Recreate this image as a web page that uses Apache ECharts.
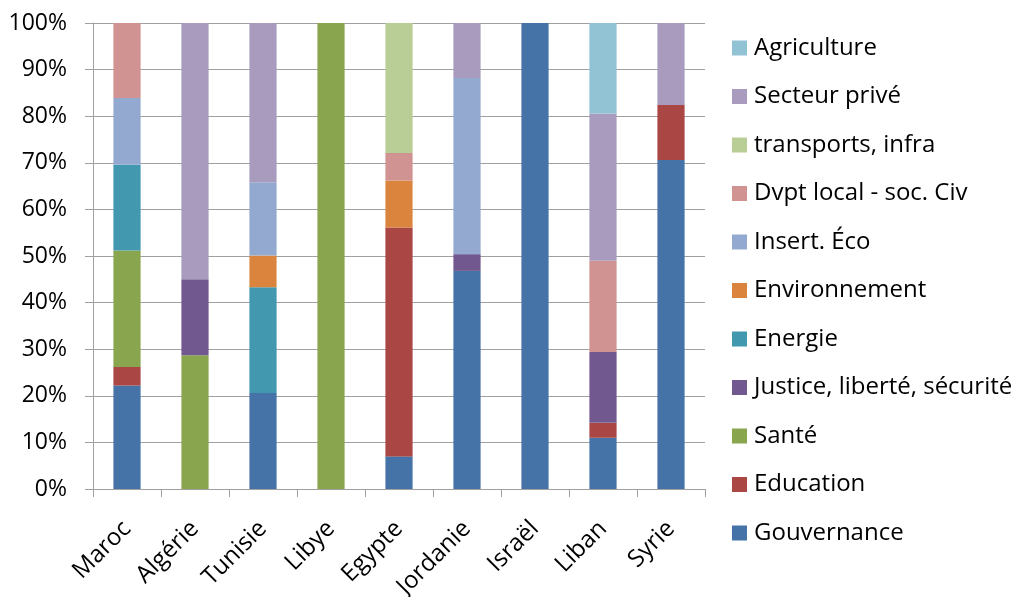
<!DOCTYPE html>
<html>
<head>
<meta charset="utf-8">
<script src="https://cdn.jsdelivr.net/npm/echarts@6/dist/echarts.min.js"></script>
<style>
  html, body { margin: 0; padding: 0; background: #ffffff; }
  #chart { width: 1018px; height: 597px; }
</style>
</head>
<body>
<div id="chart"></div>
<script>
// Countries on the x axis
const countries = ['Maroc', 'Algérie', 'Tunisie', 'Libye', 'Egypte', 'Jordanie', 'Israël', 'Liban', 'Syrie'];

// Share of each sector per country (%)
const gouvernance   = [22.2, 0,    20.6, 0,   7.0,  46.8, 100, 11.0, 70.6];
const education     = [4.0,  0,    0,    0,   49.1, 0,    0,   3.2,  11.8];
const sante         = [25.0, 28.7, 0,    100, 0,    0,    0,   0,    0];
const justice       = [0,    16.3, 0,    0,   0,    3.6,  0,   15.2, 0];
const energie       = [18.4, 0,    22.7, 0,   0,    0,    0,   0,    0];
const environnement = [0,    0,    6.8,  0,   10.1, 0,    0,   0,    0];
const insertEco     = [14.3, 0,    15.7, 0,   0,    37.8, 0,   0,    0];
const dvptLocal     = [16.1, 0,    0,    0,   5.9,  0,    0,   19.6, 0];
const transports    = [0,    0,    0,    0,   27.9, 0,    0,   0,    0];
const secteurPrive  = [0,    55.0, 34.2, 0,   0,    11.8, 0,   31.6, 17.6];
const agriculture   = [0,    0,    0,    0,   0,    0,    0,   19.4, 0];

// Sector names, bottom of the stack first
const sectorNames = ['Gouvernance', 'Education', 'Santé', 'Justice, liberté, sécurité', 'Energie',
  'Environnement', 'Insert. Éco', 'Dvpt local - soc. Civ', 'transports, infra', 'Secteur privé', 'Agriculture'];
const sectorValues = [gouvernance, education, sante, justice, energie,
  environnement, insertEco, dvptLocal, transports, secteurPrive, agriculture];
const sectorColors = ['#4572A7', '#AA4643', '#89A54E', '#71588F', '#4198AF',
  '#DB843D', '#93A9CF', '#D19392', '#B9CD96', '#A99BBD', '#92C3D4'];

// Y axis ticks
const yMin = 0, yMax = 100, yStep = 10;

const FONT = '"Open Sans", "DejaVu Sans", sans-serif';
const AXIS_GRAY = '#a0a0a0';

const chart = echarts.init(document.getElementById('chart'), null, { renderer: 'canvas' });

const series = sectorNames.map((name, i) => ({
  name: name,
  type: 'bar',
  stack: 'total',
  barWidth: '40%',
  data: sectorValues[i],
  itemStyle: { color: sectorColors[i] },
  emphasis: { disabled: true }
}));

chart.setOption({
  animation: false,
  backgroundColor: '#ffffff',
  grid: { left: 93, right: 313, top: 23, bottom: 108, containLabel: false, outerBoundsMode: 'none' },
  legend: {
    orient: 'vertical',
    left: 727,
    top: 31,
    padding: 5,
    data: sectorNames.slice().reverse(),
    icon: 'rect',
    itemWidth: 15,
    itemHeight: 15,
    itemGap: 24.5,
    selectedMode: false,
    textStyle: {
      fontFamily: FONT,
      fontSize: 24,
      color: '#000000',
      lineHeight: 24,
      padding: [0, 0, 0, 2]
    }
  },
  xAxis: {
    type: 'category',
    data: countries,
    axisLine: { lineStyle: { color: AXIS_GRAY, width: 1 } },
    axisTick: { show: true, length: 8, lineStyle: { color: AXIS_GRAY } },
    axisLabel: {
      rotate: 45,
      margin: 36,
      fontFamily: FONT,
      fontSize: 24,
      color: '#000000',
      interval: 0
    },
    splitLine: { show: false }
  },
  yAxis: {
    type: 'value',
    min: yMin,
    max: yMax,
    interval: yStep,
    axisLine: { show: true, lineStyle: { color: AXIS_GRAY, width: 1 } },
    axisTick: { show: true, length: 8, lineStyle: { color: AXIS_GRAY } },
    axisLabel: {
      formatter: '{value}%',
      margin: 26,
      fontFamily: FONT,
      fontSize: 23,
      color: '#000000'
    },
    splitLine: { show: true, lineStyle: { color: AXIS_GRAY, width: 1 } }
  },
  series: series
});
</script>
</body>
</html>
